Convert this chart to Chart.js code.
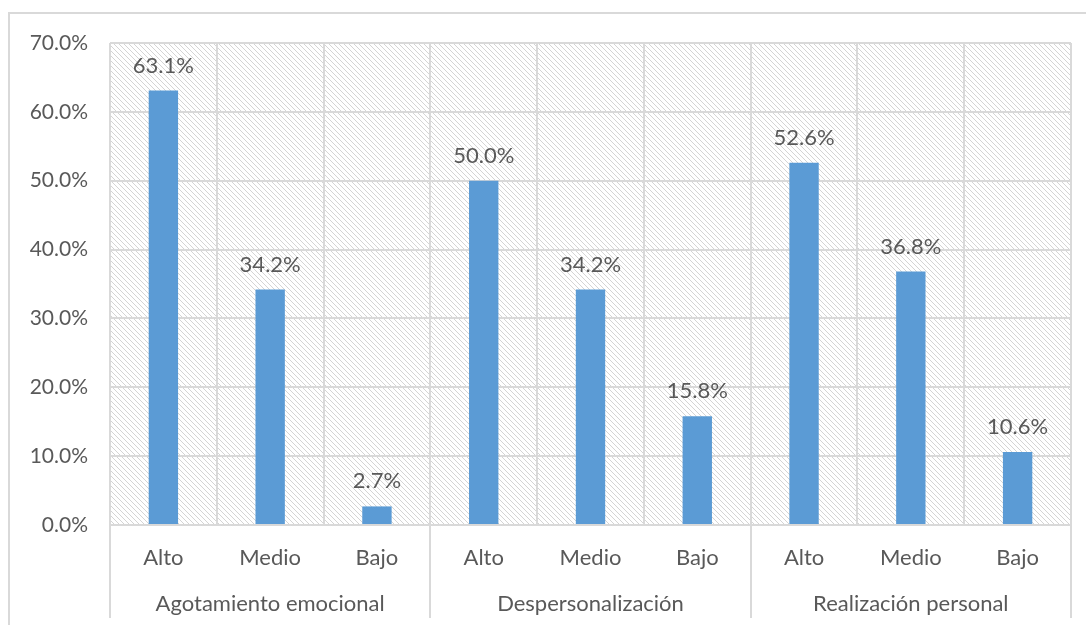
<!DOCTYPE html>
<html>
<head>
<meta charset="utf-8">
<script src="https://cdn.jsdelivr.net/npm/chart.js@4"></script>
<style>
  html, body { margin: 0; padding: 0; background: #ffffff; }
  #wrap { width: 1086px; height: 625px; position: relative; }
</style>
</head>
<body>
<div id="wrap"><canvas id="c" width="1086" height="625"></canvas></div>
<script>
// Burnout dimensions and level of each
const groups = ['Agotamiento emocional', 'Despersonalización', 'Realización personal'];
const levels = ['Alto', 'Medio', 'Bajo'];
const values = [63.1, 34.2, 2.7, 50.0, 34.2, 15.8, 52.6, 36.8, 10.6];
const yTicks = [0, 10, 20, 30, 40, 50, 60, 70];

const labels = [];
groups.forEach(() => levels.forEach(l => labels.push(l)));

const FONT = 'Lato, "Open Sans", sans-serif';
const TEXT = '#595959';
const GRID = '#d9d9d9';

// diagonal hatch for the plot background
function hatchPattern(ctx) {
  const t = document.createElement('canvas');
  t.width = 5; t.height = 5;
  const g = t.getContext('2d');
  g.fillStyle = '#ffffff';
  g.fillRect(0, 0, 5, 5);
  g.strokeStyle = '#d4d4d4';
  g.lineWidth = 1;
  g.beginPath();
  g.moveTo(-1, -1); g.lineTo(6, 6);
  g.moveTo(-1, 4); g.lineTo(1, 6);
  g.moveTo(4, -1); g.lineTo(6, 1);
  g.stroke();
  return ctx.createPattern(t, 'repeat');
}

const decor = {
  id: 'decor',
  beforeDraw(chart) {
    const { ctx, chartArea: a } = chart;
    ctx.save();
    // outer frame (top and left edges)
    ctx.strokeStyle = GRID;
    ctx.lineWidth = 2;
    ctx.beginPath();
    ctx.moveTo(1086, 13); ctx.lineTo(9, 13); ctx.lineTo(9, 625);
    ctx.stroke();
    ctx.fillStyle = hatchPattern(ctx);
    ctx.fillRect(a.left, a.top, a.right - a.left, a.bottom - a.top);
    ctx.restore();
  },
  afterDraw(chart) {
    const { ctx, chartArea: a } = chart;
    const x = chart.scales.x;
    const n = levels.length;
    const xs = [a.left, a.right];
    for (let g = 1; g < groups.length; g++) {
      xs.push((x.getPixelForValue(g * n - 1) + x.getPixelForValue(g * n)) / 2);
    }
    ctx.save();
    ctx.strokeStyle = GRID;
    ctx.lineWidth = 2;
    ctx.beginPath();
    xs.forEach(px => {
      const p = Math.round(px);
      ctx.moveTo(p, a.bottom); ctx.lineTo(p, 618);
    });
    ctx.stroke();
    // value labels above bars
    ctx.fillStyle = TEXT;
    ctx.font = '22px ' + FONT;
    ctx.textAlign = 'center';
    ctx.textBaseline = 'alphabetic';
    const meta = chart.getDatasetMeta(0);
    meta.data.forEach((bar, i) => {
      ctx.fillText(values[i].toFixed(1) + '%', bar.x, bar.y - 18);
    });
    ctx.restore();
  }
};

new Chart(document.getElementById('c'), {
  type: 'bar',
  data: {
    labels: labels,
    datasets: [{
      data: values,
      backgroundColor: '#5b9bd5',
      borderWidth: 0,
      barPercentage: 0.55,
      categoryPercentage: 0.5
    }]
  },
  options: {
    responsive: false,
    animation: false,
    events: [],
    layout: { padding: { top: 43, right: 15, bottom: 0, left: 0 } },
    plugins: { legend: { display: false }, tooltip: { enabled: false } },
    scales: {
      y: {
        min: 0, max: 70,
        afterBuildTicks: s => { s.ticks = yTicks.map(v => ({ value: v })); },
        afterFit: s => { s.width = 110; },
        border: { display: false },
        grid: { color: GRID, lineWidth: 2, drawTicks: false },
        ticks: {
          padding: 22,
          color: TEXT,
          font: { family: FONT, size: 21 },
          callback: v => v.toFixed(1) + '%'
        }
      },
      x: {
        position: 'bottom',
        afterFit: s => { s.height = 55; },
        border: { display: true, color: GRID, width: 2 },
        grid: { offset: true, color: GRID, lineWidth: 2, drawTicks: false },
        ticks: { padding: 20, color: TEXT, font: { family: FONT, size: 22 } }
      },
      x2: {
        type: 'category',
        labels: groups,
        position: 'bottom',
        offset: true,
        afterFit: s => { s.height = 45; },
        border: { display: false },
        grid: { display: false, drawOnChartArea: false },
        ticks: { padding: 3, color: TEXT, font: { family: FONT, size: 22 } }
      }
    }
  },
  plugins: [decor]
});
</script>
</body>
</html>
